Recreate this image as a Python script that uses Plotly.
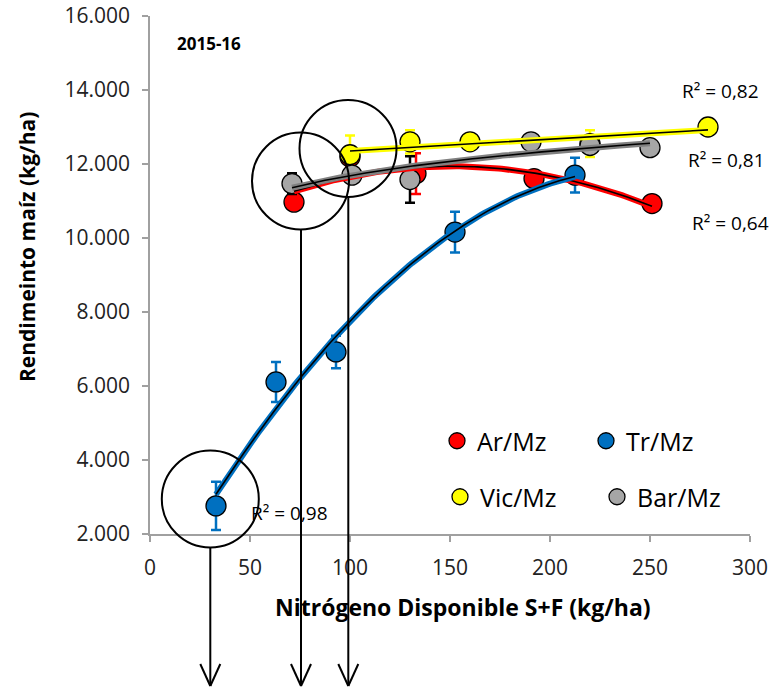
import numpy as np
import plotly.graph_objects as go

# ---------------- data ----------------
ar_x = [72, 100, 133, 192, 251]
ar_y = [10970, 12190, 11740, 11605, 10930]
ar_err = [150, 250, 550, 200, 150]

tr_x = [33, 63, 93, 152.5, 212.5]
tr_y = [2760, 6110, 6920, 10160, 11700]
tr_err = [650, 540, 440, 550, 470]

vic_x = [100, 130, 160, 220, 279]
vic_y = [12250, 12600, 12600, 12550, 13000]
vic_err = [520, 315, 120, 360, 100]

bar_x = [71, 101, 130, 190.5, 220, 250]
bar_y = [11470, 11700, 11580, 12600, 12500, 12440]
bar_err = [280, 150, 630, 150, 200, 120]

r2_labels = ["R² = 0,82", "R² = 0,81", "R² = 0,64", "R² = 0,98"]
x_ticks = [0, 50, 100, 150, 200, 250, 300]
y_ticks = [2000, 4000, 6000, 8000, 10000, 12000, 14000, 16000]

FONT = "Open Sans"
W, H = 773, 690
ML, MR, MT, MB = 150, 23, 16, 156
PW, PH = W - ML - MR, H - MT - MB


def px(x):
    return (x - ML) / PW


def py(y):
    return (H - MB - y) / PH


fig = go.Figure()

series = [
    ("Ar/Mz", ar_x, ar_y, ar_err, "#FF0000", "#FF0000", "legend"),
    ("Tr/Mz", tr_x, tr_y, tr_err, "#0070C0", "#0070C0", "legend"),
    ("Vic/Mz", vic_x, vic_y, vic_err, "#FFFF00", "#FFFF00", "legend2"),
    ("Bar/Mz", bar_x, bar_y, bar_err, "#A6A6A6", "#000000", "legend2"),
]

for name, xs, ys, es, col, ecol, lg in series:
    fig.add_trace(go.Scatter(
        x=xs, y=ys, mode="markers", name=name, legend=lg,
        marker=dict(size=20, color=col, line=dict(color="#000", width=1.3)),
        error_y=dict(type="data", array=es, visible=True, color=ecol,
                     thickness=2.5, width=5),
    ))

# trendlines (fits of the data)
fits = [
    (ar_x, ar_y, "poly2", "#FF0000"),
    (tr_x, tr_y, "poly2", "#0070C0"),
    (vic_x, vic_y, "lin", "#FFFF00"),
    (bar_x, bar_y, "log", "#808080"),
]
for xs, ys, kind, col in fits:
    xa = np.array(xs, float)
    ya = np.array(ys, float)
    xx = np.linspace(xa.min(), xa.max(), 120)
    if kind == "poly2":
        yy = np.polyval(np.polyfit(xa, ya, 2), xx)
    elif kind == "lin":
        yy = np.polyval(np.polyfit(xa, ya, 1), xx)
    else:
        c = np.polyfit(np.log(xa), ya, 1)
        yy = c[0] * np.log(xx) + c[1]
    fig.add_trace(go.Scatter(x=xx, y=yy, mode="lines", showlegend=False,
                             hoverinfo="skip", line=dict(color=col, width=6)))
    fig.add_trace(go.Scatter(x=xx, y=yy, mode="lines", showlegend=False,
                             hoverinfo="skip", line=dict(color="#000", width=1.6)))

shapes = []
# circles (pixel centres, radius)
for cx, cy, r in [(300.5, 181, 48.5), (348, 148.5, 48.5), (210.3, 499, 48.5)]:
    shapes.append(dict(type="circle", xref="paper", yref="paper",
                       x0=px(cx - r), x1=px(cx + r), y0=py(cy + r), y1=py(cy - r),
                       line=dict(color="#000", width=2)))
# arrows
for ax, top in [(210.3, 547.5), (301, 229.5), (348.3, 197)]:
    tip = 686
    shapes.append(dict(type="line", xref="paper", yref="paper",
                       x0=px(ax), x1=px(ax), y0=py(top), y1=py(tip),
                       line=dict(color="#000", width=2)))
    for s in (-1, 1):
        shapes.append(dict(type="line", xref="paper", yref="paper",
                           x0=px(ax + s * 10), x1=px(ax), y0=py(tip - 22), y1=py(tip),
                           line=dict(color="#000", width=2)))

annotations = []
for txt, cx, cy in zip(r2_labels, [720, 726, 730, 289], [91, 160, 223, 513]):
    annotations.append(dict(text=txt, x=px(cx), y=py(cy), xref="paper", yref="paper",
                            showarrow=False, xanchor="center", yanchor="middle",
                            font=dict(family=FONT, size=19, color="#000")))
annotations.append(dict(text="<b>2015-16</b>", x=px(175), y=py(43), xref="paper", yref="paper",
                        showarrow=False, xanchor="left", yanchor="middle",
                        font=dict(family=FONT, size=17, color="#000")))
annotations.append(dict(text="<b>Nitrógeno Disponible S+F (kg/ha)</b>", x=px(463), y=py(607),
                        xref="paper", yref="paper", showarrow=False,
                        xanchor="center", yanchor="middle",
                        font=dict(family=FONT, size=23, color="#000")))
annotations.append(dict(text="<b>Rendimeinto maíz (kg/ha)</b>", x=px(27), y=py(247),
                        xref="paper", yref="paper", showarrow=False, textangle=-90,
                        xanchor="center", yanchor="middle",
                        font=dict(family=FONT, size=21, color="#000")))

axis_common = dict(showgrid=False, zeroline=False, showline=True, linecolor="#A0A0A0",
                   linewidth=1.5, ticks="outside", ticklen=6, tickcolor="#A0A0A0",
                   tickwidth=1.5, tickfont=dict(family=FONT, size=21, color="#222"))

fig.update_layout(
    width=W, height=H, margin=dict(l=ML, r=MR, t=MT, b=MB, autoexpand=False),
    paper_bgcolor="white", plot_bgcolor="white", separators=",.",
    xaxis=dict(range=[0, 300], tickvals=x_ticks, ticklabelstandoff=8, **axis_common),
    yaxis=dict(range=[2000, 16000], tickvals=y_ticks, tickformat=",d",
               ticklabelstandoff=8, **axis_common),
    shapes=shapes, annotations=annotations,
    legend=dict(orientation="h", x=px(437), y=py(441), xanchor="left", yanchor="middle",
                entrywidth=104, bgcolor="rgba(0,0,0,0)",
                font=dict(family=FONT, size=25, color="#000")),
    legend2=dict(orientation="h", x=px(440), y=py(497), xanchor="left", yanchor="middle",
                 entrywidth=112, bgcolor="rgba(0,0,0,0)",
                 font=dict(family=FONT, size=25, color="#000")),
    showlegend=True,
)

fig.write_html("out.html", config={"displayModeBar": False},
               post_script="document.body.style.margin='0px';"
                           "document.body.style.overflow='hidden';")
